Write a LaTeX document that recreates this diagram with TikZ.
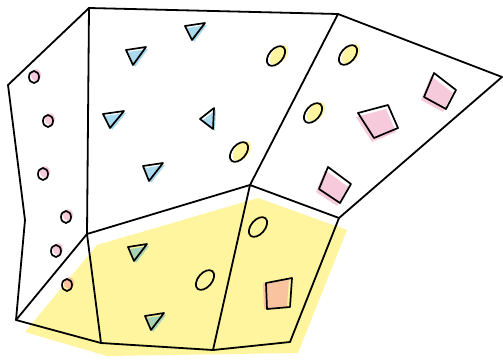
\documentclass[tikz,border=0pt]{standalone}
\definecolor{hpink}{HTML}{F7CADB}
\definecolor{hblue}{HTML}{A9D9EC}
\definecolor{hyel}{HTML}{FFF59E}
\definecolor{hgreen}{HTML}{A6D3B6}
\definecolor{horange}{HTML}{F9C3A0}
\tikzset{
  wall/.style={line width=1.8pt, line join=round, line cap=round},
  hold/.style={line width=1.7pt, line join=round}
}
\newcommand{\hshape}[4]{\fill[#1, shift={(#2,#3)}] #4; \draw[hold] #4;}
\newcommand{\hell}[3]{%
  \fill[#3, rotate around={-40:(#1+3,#2-1)}] (#1+3,#2-1) ellipse [x radius=7, y radius=11.5];
  \draw[hold, rotate around={-40:(#1,#2)}] (#1,#2) ellipse [x radius=7, y radius=11.5];}
\newcommand{\hcirc}[3]{%
  \fill[#3] (#1+2,#2-2) ellipse [x radius=5, y radius=6];
  \draw[hold] (#1,#2) ellipse [x radius=5, y radius=6];}
\begin{document}
\begin{tikzpicture}[x=1pt,y=-1pt]
\useasboundingbox (0,0) rectangle (503,359);
\fill[white] (0,0) rectangle (503,359);
% yellow area
\fill[hyel] (25,332)--(97,245)--(258,198)--(347,230)--(298,353)--(107,356)--cycle;
% wall
\draw[wall] (8,85)--(89,8)--(338,14)--(502,77)--(339,218)--(290,342)--(213,350)--(101,343)--(16,320)--(25,220)--cycle;
\draw[wall] (89,8)--(87,234);
\draw[wall] (16,320)--(87,234)--(250,185)--(339,218);
\draw[wall] (87,234)--(101,343);
\draw[wall] (338,14)--(250,185)--(213,350);
% pink circles
\hcirc{34}{77}{hpink}
\hcirc{48}{121}{hpink}
\hcirc{43}{174}{hpink}
\hcirc{66}{217}{hpink}
\hcirc{56}{251}{hpink}
\hcirc{67}{285}{horange}
% blue triangles
\hshape{hblue}{2}{2}{(126,50)--(146,47)--(133,65)--cycle}
\hshape{hblue}{2}{2}{(185,26)--(205,23)--(192,40)--cycle}
\hshape{hblue}{2}{2}{(103,114)--(124,111)--(110,128)--cycle}
\hshape{hblue}{2}{2}{(200,119)--(214,108)--(213,129)--cycle}
\hshape{hblue}{2}{2}{(143,166)--(163,163)--(149,181)--cycle}
\hshape{hgreen}{2}{2}{(128,247)--(147,244)--(134,261)--cycle}
\hshape{hgreen}{2}{2}{(145,316)--(164,313)--(151,330)--cycle}
% yellow ellipses
\hell{276}{56}{hyel}
\hell{348}{55}{hyel}
\hell{313}{113}{hyel}
\hell{239}{152}{hyel}
\hell{258}{227}{hyel}
\hell{205}{280}{hyel}
% pink squares
\hshape{hpink}{-3}{3}{(434,73)--(456,90)--(446,109)--(424,97)--cycle}
\hshape{hpink}{-2}{4}{(358,113)--(388,105)--(398,128)--(374,138)--cycle}
\hshape{hpink}{-3}{3}{(328,167)--(351,184)--(340,203)--(319,189)--cycle}
\hshape{horange}{-3}{0}{(266,283)--(292,278)--(290,307)--(267,309)--cycle}
\end{tikzpicture}
\end{document}
